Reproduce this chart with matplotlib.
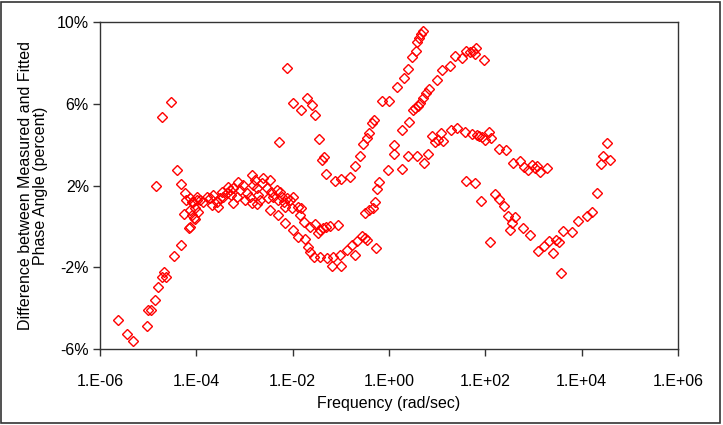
import numpy as np
import matplotlib
matplotlib.use('Agg')
import matplotlib.pyplot as plt
from matplotlib.ticker import FuncFormatter, FixedLocator, NullLocator

plt.rcParams['font.family'] = ['Liberation Sans', 'DejaVu Sans']

# log10 of frequency (rad/sec) and the phase angle difference (percent)
# low frequency tail
low_logf = [-5.63, -5.44, -5.32, -5.02, -5.01, -4.95, -4.86, -4.79, -4.72, -4.67, -4.62,
            -4.83, -4.71, -4.52, -4.46, -4.40, -4.32, -4.31, -4.26, -4.23, -4.15, -4.21,
            -4.13, -4.10, -4.03, -3.99]
low_pct = [-4.56, -5.28, -5.59, -4.87, -4.09, -4.10, -3.60, -2.95, -2.46, -2.22, -2.47,
           2.00, 5.34, 6.09, -1.45, 2.74, -0.91, 2.06, 0.59, 1.65, -0.06, 1.29,
           0.80, 1.21, 0.36, 1.29]

# hump around 1e-3
hump_logf = [-4.13, -4.06, -3.99, -3.92, -4.03, -3.96, -4.10, -4.13, -4.05, -3.86, -3.78,
             -3.72, -3.65, -3.68, -3.58, -3.51, -3.47, -3.44, -3.54, -3.37, -3.30, -3.34,
             -3.23, -3.27, -3.23, -3.16, -3.13, -3.09, -3.03, -2.95, -2.99, -2.89, -2.85,
             -2.82, -2.78, -2.75, -2.71, -2.68, -2.64, -2.61, -2.54, -2.47, -2.51, -2.44,
             -2.40, -2.33, -2.30, -2.26, -2.23, -2.19, -2.16, -2.12, -2.06, -2.02, -1.99,
             -1.88, -1.85, -2.47, -2.30, -2.16, -1.99, -1.88, -2.85, -2.75]
hump_pct = [1.37, 1.21, 1.45, 1.29, 0.88, 0.72, 0.56, -0.02, 0.40, 1.21, 1.45,
            1.37, 1.54, 1.05, 1.21, 1.37, 1.70, 1.45, 0.96, 1.62, 1.78, 1.94,
            1.86, 1.54, 1.13, 1.45, 2.19, 1.78, 2.02, 1.62, 1.29, 1.45, 2.51,
            2.02, 2.27, 1.86, 1.54, 1.29, 2.11, 2.35, 1.86, 2.27, 1.37, 1.70,
            1.45, 1.78, 1.29, 1.70, 1.45, 1.21, 0.96, 1.37, 1.29, 0.88, 1.45,
            0.96, 0.56, 0.80, 0.56, 0.15, -0.18, -0.51, 1.13, 1.10]

# steep branch climbing to ~9.5 %
steep_logf = [-2.29, -2.12, -2.00, -1.83, -1.70, -1.59, -1.53, -1.45, -1.40, -1.34, -1.31,
              -1.12, -1.00, -0.82, -0.70, -0.60, -0.53, -0.45, -0.41, -0.36, -0.31, -0.14,
              0.00, 0.17, 0.31, 0.40, 0.48, 0.55, 0.58, 0.63, 0.66, 0.71]
steep_pct = [4.14, 7.73, 6.06, 5.71, 6.26, 5.93, 5.43, 4.27, 3.25, 3.41, 2.55,
             2.22, 2.32, 2.44, 2.94, 3.44, 4.02, 4.32, 4.57, 5.04, 5.19, 6.13,
             6.13, 6.83, 7.26, 7.70, 8.30, 8.57, 9.00, 9.22, 9.41, 9.56]

# dip around 0.1 rad/sec
dip_logf = [-1.43, -1.36, -1.30, -1.23, -1.05, -1.83, -1.76, -1.65, -1.54, -1.47,
            -1.74, -1.69, -1.64, -1.55, -1.43, -1.29, -1.19, -1.16, -1.02, -0.99,
            -0.88, -0.77, -0.71, -0.67, -0.57, -0.50, -0.45, -0.28]
dip_pct = [-0.18, -0.10, -0.03, 0.00, 0.09, 0.88, 0.23, -0.02, 0.12, -0.34,
           -0.63, -0.99, -1.24, -1.48, -1.51, -1.56, -1.94, -1.51, -1.40, -1.94,
           -1.16, -0.91, -1.40, -0.70, -0.47, -0.58, -0.67, -1.07]

# branch rising to ~8.6 % near 1e2
rise_logf = [-0.50, -0.41, -0.34, -0.29, -0.25, -0.20, -0.02, 0.10, 0.10, 0.28, 0.28,
             0.42, 0.40, 0.58, 0.50, 0.54, 0.60, 0.64, 0.71, 0.76, 0.82, 0.72, 0.80,
             0.99, 1.11, 1.27, 1.38, 1.51, 1.59, 1.68, 1.75, 1.81, 1.79, 1.98]
rise_pct = [0.64, 0.80, 0.88, 1.19, 1.81, 2.15, 2.78, 3.54, 3.98, 2.79, 4.72,
            5.12, 3.44, 3.44, 5.68, 5.78, 5.89, 6.02, 6.27, 6.51, 6.72, 3.10, 3.53,
            7.16, 7.63, 7.85, 8.35, 8.26, 8.56, 8.51, 8.58, 8.75, 8.42, 8.13]

# branch peaking near 4.5 % then falling
peak_logf = [0.89, 0.95, 1.02, 1.07, 1.13, 1.29, 1.42, 1.58, 1.72, 1.82, 1.87, 1.93,
             1.99, 2.07, 2.12, 2.29, 2.42, 2.58, 2.71, 2.80, 2.89, 2.96, 3.04, 3.08,
             3.13, 3.29]
peak_pct = [4.42, 4.11, 4.21, 4.57, 4.19, 4.72, 4.81, 4.60, 4.52, 4.47, 4.42, 4.36,
            4.21, 4.64, 4.33, 3.78, 3.75, 3.09, 3.18, 2.92, 2.76, 2.99, 2.86, 2.97,
            2.66, 2.88]

# high frequency branch
high_logf = [1.60, 1.79, 1.90, 2.09, 2.21, 2.29, 2.39, 2.47, 2.62, 2.56, 2.52, 2.79,
             2.92, 3.10, 3.22, 3.32, 3.40, 3.47, 3.52, 3.57, 3.61, 3.80, 3.92, 4.10,
             4.22, 4.32, 4.40, 4.45, 4.52, 4.58]
high_pct = [2.22, 2.12, 1.24, -0.76, 1.58, 1.34, 1.02, 0.51, 0.47, 0.19, -0.18, -0.09,
            -0.43, -1.19, -0.95, -0.73, -1.29, -0.68, -0.78, -2.30, -0.23, -0.27, 0.24, 0.51,
            0.70, 1.63, 3.04, 3.43, 4.09, 3.25]

log_freq = np.array(low_logf + hump_logf + steep_logf + dip_logf + rise_logf + peak_logf + high_logf)
diff_pct = np.array(low_pct + hump_pct + steep_pct + dip_pct + rise_pct + peak_pct + high_pct)

FONT_SIZE = 11.5

fig = plt.figure(figsize=(7.23, 4.25), dpi=100)
ax = fig.add_axes([0.1383, 0.1788, 0.7995, 0.7694])

ax.plot(10 ** log_freq, diff_pct, linestyle='none', marker='D', markersize=4.6,
        markerfacecolor='none', markeredgecolor='#ff0000', markeredgewidth=1.0)

ax.set_xscale('log')
ax.set_xlim(1e-6, 1e6)
ax.set_ylim(-6, 10)
ax.xaxis.set_major_locator(FixedLocator([10.0 ** e for e in range(-6, 7, 2)]))
ax.xaxis.set_minor_locator(NullLocator())
ax.xaxis.set_major_formatter(FuncFormatter(lambda v, p: '1.E%+03d' % int(round(np.log10(v)))))
ax.set_yticks([-6, -2, 2, 6, 10])
ax.yaxis.set_major_formatter(FuncFormatter(lambda v, p: '%d%%' % v))

for s in ax.spines.values():
    s.set_color('#333333')
    s.set_linewidth(1.0)
ax.tick_params(axis='both', direction='out', length=5, width=1, color='#333333',
               labelsize=FONT_SIZE, pad=3)
ax.tick_params(axis='x', pad=13)

ax.set_xlabel('Frequency (rad/sec)', fontsize=FONT_SIZE, labelpad=5)
ax.set_ylabel('Difference between Measured and Fitted\nPhase Angle (percent)',
              fontsize=FONT_SIZE, labelpad=6, linespacing=1.0)

# thin frame round the whole picture
fig.patches.append(plt.Rectangle((0.002, 0.004), 0.994, 0.992, transform=fig.transFigure,
                                 fill=False, edgecolor='#333333', linewidth=1.2))

fig.savefig('out.png', dpi=100)
